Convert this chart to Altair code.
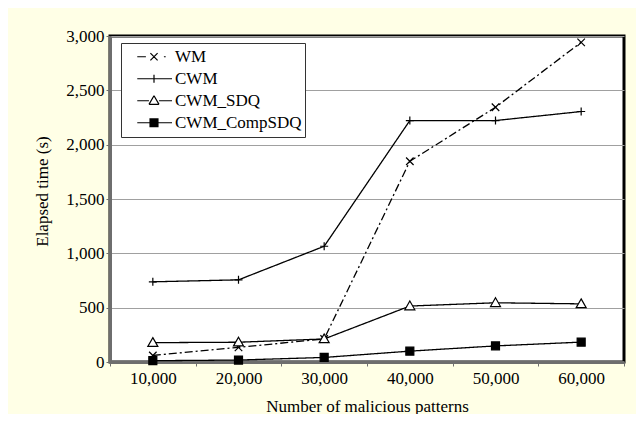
import altair as alt
import pandas as pd

# ---- data ----
patterns = ["10,000", "20,000", "30,000", "40,000", "50,000", "60,000"]
series = ["WM", "CWM", "CWM_SDQ", "CWM_CompSDQ"]
wm = [60, 135, 212, 1847, 2344, 2942]
cwm = [738, 756, 1065, 2222, 2222, 2305]
cwm_sdq = [178, 182, 212, 515, 545, 535]
cwm_compsdq = [12, 18, 42, 100, 148, 183]
y_ticks = [0, 500, 1000, 1500, 2000, 2500, 3000]

rows = []
for s, vals in zip(series, [wm, cwm, cwm_sdq, cwm_compsdq]):
    for p, v in zip(patterns, vals):
        rows.append({"pattern": p, "series": s, "time": v})
df = pd.DataFrame(rows)

FONT = "Liberation Serif"

# marker shapes (chart) and legend symbols (line + marker)
marker_paths = [
    "M-0.75,-0.75L0.75,0.75M-0.75,0.75L0.75,-0.75",
    "M-0.8,0H0.8M0,-0.8V0.8",
    "M0,-1L1,0.75L-1,0.75Z",
    "M-0.8,-0.8H0.8V0.8H-0.8Z",
]
square_fill = "".join(
    "M-0.22,{:.3f}H0.22".format(v)
    for v in [-0.22, -0.165, -0.11, -0.055, 0.0, 0.055, 0.11, 0.165, 0.22]
)
legend_paths = [
    "M-0.93,0H-0.45M-0.2,-0.2L0.2,0.2M-0.2,0.2L0.2,-0.2M0.55,0H0.65",
    "M-0.93,0H1.0M0,-0.22V0.22",
    "M-0.93,0H-0.28M0.28,0H1.0M0,-0.28L0.28,0.2M0.28,0.2L-0.28,0.2M-0.28,0.2L0,-0.28",
    "M-0.93,0H1.0M-0.22,-0.22H0.22V0.22H-0.22Z" + square_fill,
]
fills = ["white", "white", "white", "black"]

x_enc = alt.X(
    "pattern:O",
    sort=patterns,
    bandPosition=0.5,
    scale=alt.Scale(type="band", domain=patterns, paddingInner=0, paddingOuter=0),
    axis=alt.Axis(
        title="Number of malicious patterns",
        labelAngle=0,
        tickBand="extent",
        tickSize=4,
        labelPadding=4,
        domainColor="#6e6e6e",
        domainWidth=3,
        tickColor="#6e6e6e",
        grid=False,
        titleY=44,
        titleBaseline="middle",
    ),
)
y_enc = alt.Y(
    "time:Q",
    scale=alt.Scale(domain=[0, 3000], nice=False),
    axis=alt.Axis(
        title="Elapsed time (s)",
        values=y_ticks,
        format=",.0f",
        tickSize=4,
        labelPadding=2,
        domainColor="#6e6e6e",
        domainWidth=3,
        tickColor="#6e6e6e",
        grid=True,
        gridColor="#a0a0a0",
        gridWidth=1,
        titleX=-68,
        titleY=155,
        titleBaseline="middle",
    ),
)

lines = alt.Chart(df).mark_line(color="black", strokeWidth=1.3).encode(
    x=x_enc,
    y=y_enc,
    detail="series:N",
    strokeDash=alt.StrokeDash(
        "series:N",
        scale=alt.Scale(domain=series, range=[[8, 3, 2, 3], [1, 0], [1, 0], [1, 0]]),
        legend=None,
    ),
)

points = alt.Chart(df).mark_point(
    filled=True, size=100, stroke="black", strokeWidth=1.2, opacity=1
).encode(
    x=x_enc,
    y=y_enc,
    shape=alt.Shape("series:N", scale=alt.Scale(domain=series, range=marker_paths), legend=None),
    fill=alt.Fill("series:N", scale=alt.Scale(domain=series, range=fills), legend=None),
)

legend_layer = alt.Chart(df).transform_filter("false").mark_point(
    filled=False, size=1296, color="black", strokeWidth=1.2, opacity=1
).encode(
    x=x_enc,
    y=y_enc,
    shape=alt.Shape(
        "series:N",
        scale=alt.Scale(domain=series, range=legend_paths),
        legend=alt.Legend(
            title=None,
            orient="none",
            legendX=11,
            legendY=7,
            padding=3,
            rowPadding=0,
            clipHeight=21.5,
            symbolSize=1296,
            symbolOffset=11,
            labelOffset=2,
            fillColor="white",
            strokeColor="#333333",
            cornerRadius=0,
            symbolStrokeColor="black",
            symbolStrokeWidth=1.2,
            symbolOpacity=1,
            labelFont=FONT,
            labelFontSize=17,
            labelColor="black",
        ),
    ),
)

chart = (
    alt.layer(lines, points, legend_layer)
    .resolve_scale(shape="independent", fill="independent")
    .properties(
        width=514,
        height=326,
        autosize=alt.AutoSizeParams(type="none"),
        padding={"left": 102, "top": 28, "right": 12, "bottom": 52},
        background="#ffffe6",
    )
    .configure_view(stroke="black", strokeWidth=3, fill="white")
    .configure_axis(
        labelFont=FONT,
        titleFont=FONT,
        labelFontSize=17,
        titleFontSize=17,
        labelColor="black",
        titleColor="black",
        titleFontWeight="normal",
    )
)

chart.save("out.html", embed_options={"renderer": "svg", "actions": False})
